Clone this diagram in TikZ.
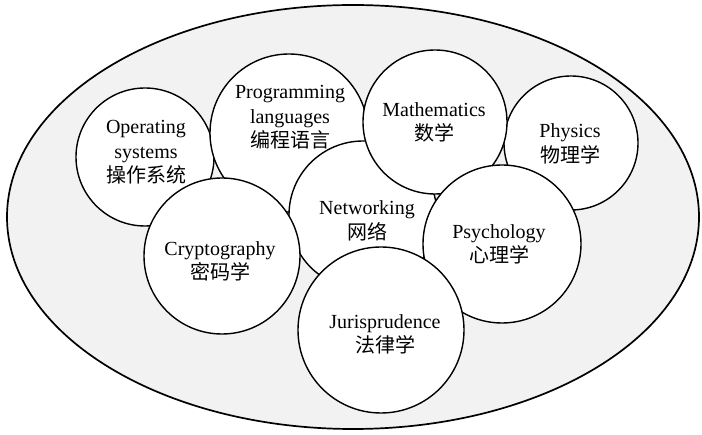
\documentclass[tikz,border=0pt]{standalone}
\usepackage{fontspec}
\setmainfont{Liberation Serif}
\newfontfamily\cjk{Noto Sans CJK SC}
\begin{document}
\begin{tikzpicture}[x=1pt,y=-1pt,
  field/.style={draw,circle,fill=white,line width=1.4pt,inner sep=0pt},
  lbl/.style={align=center,font=\fontsize{20}{24.5}\selectfont}]
\useasboundingbox (0,0) rectangle (702,435);
% 外圈
\draw[line width=1.7pt,fill=gray!10] (353,217) ellipse (346 and 212);
% 各学科圆
\node[field,minimum size=138pt] (os) at (145,157) {};
\node[field,minimum size=158pt] (prog) at (289,133) {};
\node[field,minimum size=134pt] (phys) at (571,143) {};
\node[field,minimum size=148pt] (net) at (363,215) {};
\node[field,minimum size=144pt] (math) at (435,122) {};
\node[field,minimum size=156pt] (crypt) at (222,256) {};
\node[field,minimum size=158pt] (psych) at (502,244) {};
\node[field,minimum size=166pt] (juris) at (381,330) {};
% 标签
\node[lbl] (os-t) at (146,152.5) {Operating\\systems\\{\cjk 操作系统}};
\node[lbl] (prog-t) at (290,117.5) {Programming\\languages\\{\cjk 编程语言}};
\node[lbl] (math-t) at (434,122.5) {Mathematics\\{\cjk 数学}};
\node[lbl] (phys-t) at (570,144) {Physics\\{\cjk 物理学}};
\node[lbl] (net-t) at (367,221) {Networking\\{\cjk 网络}};
\node[lbl] (crypt-t) at (220,261.5) {Cryptography\\{\cjk 密码学}};
\node[lbl] (psych-t) at (499,244.5) {Psychology\\{\cjk 心理学}};
\node[lbl] (juris-t) at (385,334.5) {Jurisprudence\\{\cjk 法律学}};
\end{tikzpicture}
\end{document}
